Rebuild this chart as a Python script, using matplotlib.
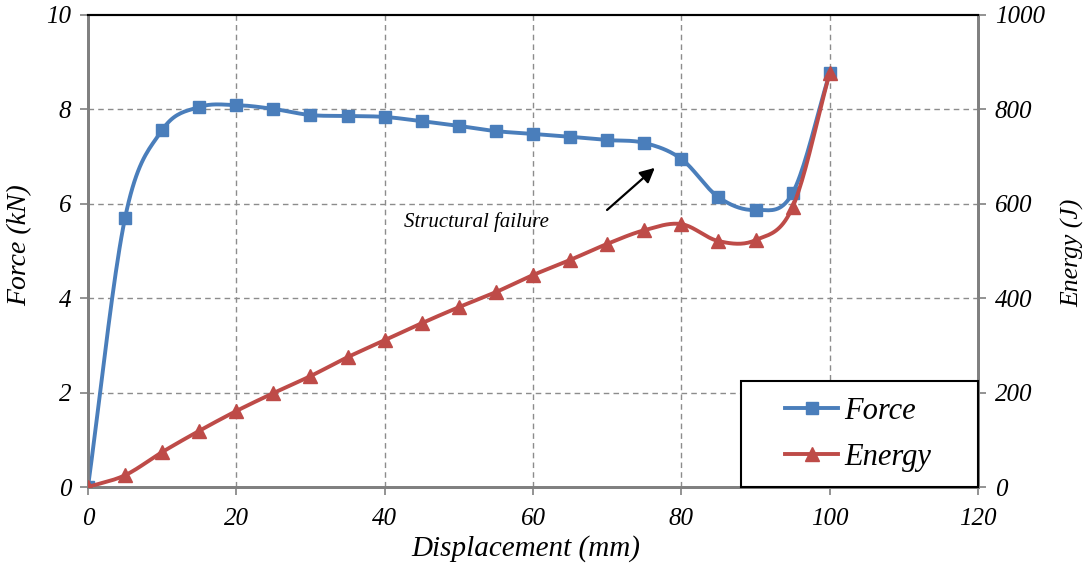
import numpy as np
import matplotlib
matplotlib.use("Agg")
import matplotlib.pyplot as plt
import matplotlib.patches as patches

# Data
displacement = [0, 5, 10, 15, 20, 25, 30, 35, 40, 45, 50, 55, 60, 65, 70, 75, 80, 85, 90, 95, 100]
force = [0, 5.70, 7.56, 8.05, 8.09, 8.01, 7.88, 7.86, 7.84, 7.75, 7.65, 7.54, 7.48, 7.42,
         7.35, 7.29, 6.95, 6.14, 5.87, 6.23, 8.77]
energy = [0, 25, 74, 119, 161, 199, 235, 275, 311, 347, 381, 413, 449, 481, 515, 544,
          557, 521, 523, 593, 877]

BLUE = '#4a7ebb'
RED = '#be4b48'
GRID = '#8c8c8c'


def smooth(x, y, n=20):
    # Catmull-Rom style smoothing, similar to Excel's "smoothed line"
    x = np.asarray(x, float)
    y = np.asarray(y, float)
    px = np.concatenate([[2 * x[0] - x[1]], x, [2 * x[-1] - x[-2]]])
    py = np.concatenate([[2 * y[0] - y[1]], y, [2 * y[-1] - y[-2]]])
    xs, ys = [], []
    t = np.linspace(0, 1, n, endpoint=False)
    for i in range(1, len(px) - 2):
        for arr, out in ((px, xs), (py, ys)):
            p0, p1, p2, p3 = arr[i - 1], arr[i], arr[i + 1], arr[i + 2]
            out.extend(0.5 * ((2 * p1) + (-p0 + p2) * t
                              + (2 * p0 - 5 * p1 + 4 * p2 - p3) * t ** 2
                              + (-p0 + 3 * p1 - 3 * p2 + p3) * t ** 3))
    xs.append(x[-1])
    ys.append(y[-1])
    return np.array(xs), np.array(ys)


plt.rcParams['font.family'] = ['Liberation Serif', 'DejaVu Serif']
plt.rcParams['font.style'] = 'italic'

fig, ax = plt.subplots(figsize=(10.86, 5.65), dpi=100)
fig.subplots_adjust(left=0.081, right=0.9006, top=0.9735, bottom=0.138)
ax2 = ax.twinx()

ax.set_xlim(0, 120)
ax.set_ylim(0, 10)
ax2.set_ylim(0, 1000)
ax.set_xticks(range(0, 121, 20))
ax.set_yticks(range(0, 11, 2))
ax2.set_yticks(range(0, 1001, 200))

# grid
for gx in range(20, 120, 20):
    ax.axvline(gx, color=GRID, lw=1, ls=(0, (4, 3)), zorder=0)
for gy in range(2, 10, 2):
    ax.axhline(gy, color=GRID, lw=1, ls=(0, (4, 3)), zorder=0)

for a in (ax, ax2):
    for s in ('left', 'right', 'bottom'):
        a.spines[s].set_color('#808080')
        a.spines[s].set_linewidth(2)
    a.spines['top'].set_color('black')
    a.spines['top'].set_linewidth(1.5)
    a.tick_params(labelsize=18, color='#808080', width=1.2, length=6, pad=6)
ax.tick_params(axis='x', pad=9)

sx, sy = smooth(displacement, force)
ax.plot(sx, sy, color=BLUE, lw=2.8, zorder=3)
ax.plot(displacement, force, ls='none', marker='s', ms=9, color=BLUE, zorder=4)

ex, ey = smooth(displacement, energy)
ax2.plot(ex, ey, color=RED, lw=2.8, zorder=3)
ax2.plot(displacement, energy, ls='none', marker='^', ms=10, color=RED, zorder=4)

ax.set_xlabel('Displacement (mm)', fontsize=21)
ax.set_ylabel('Force (kN)', fontsize=20)
ax2.set_ylabel('Energy (J)', fontsize=18.5)
ax.xaxis.set_label_coords(0.492, -0.131)
ax.yaxis.set_label_coords(-0.0764, 0.513)
ax2.yaxis.set_label_coords(1.1067, 0.496)
for lab in (ax.xaxis.label, ax.yaxis.label, ax2.yaxis.label):
    lab.set_ha('center')
    lab.set_va('center')

ax.annotate('', xy=(76.7, 6.8), xytext=(69.7, 5.83),
            arrowprops=dict(arrowstyle='-|>', color='black', lw=1.6, mutation_scale=22))
ax.text(42.6, 5.61, 'Structural failure', fontsize=15, va='center', ha='left')

# legend with a wide box, as in the reference
h1 = plt.Line2D([], [], color=BLUE, lw=2.8, marker='s', ms=9)
h2 = plt.Line2D([], [], color=RED, lw=2.8, marker='^', ms=10)
leg = ax2.legend([h1, h2], ['Force', 'Energy'], loc='center left',
                 bbox_to_anchor=(0.783, 0.112), fontsize=22, frameon=False,
                 borderaxespad=0, borderpad=0, handlelength=1.75,
                 labelspacing=0.55, handletextpad=0.2)
leg.set_zorder(10)
box = patches.Rectangle((0.7337, 0.0), 0.2663, 0.2246, transform=ax2.transAxes,
                        facecolor='white', edgecolor='black', lw=1.5, zorder=9,
                        clip_on=False)
ax2.add_patch(box)

fig.savefig('out.png', dpi=100)
